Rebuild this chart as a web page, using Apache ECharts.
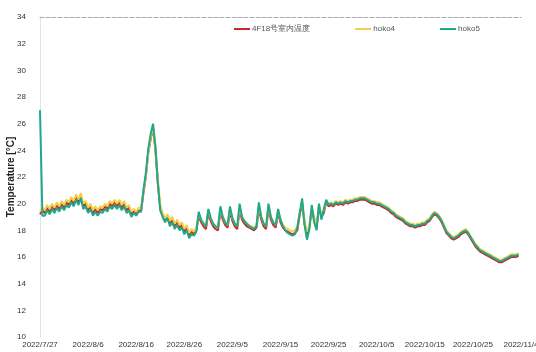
<!DOCTYPE html>
<html>
<head>
<meta charset="utf-8">
<script src="https://cdn.jsdelivr.net/npm/echarts@6/dist/echarts.min.js"></script>
<style>
  html, body { margin: 0; padding: 0; background: #fff; }
  #chart { width: 536px; height: 352px; }
</style>
</head>
<body>
<div id="chart"></div>
<script>
// Logger readings, two samples per day (00:00 and 12:00) starting 2022/7/27.
const startDate = [2022, 6, 27];
const seriesNames = ['4F18号室内温度', 'hoko4', 'hoko5'];
const yTicks = { min: 10, max: 34, step: 2 };
const xTicks = { min: 0, max: 100, step: 10 };

const room18 = [
  19.2,19.5, 19.3,19.7, 19.4,19.8, 19.5,19.9, 19.6,20.0, 19.7,20.1, 19.9,20.3, 20.0,20.5, 20.1,20.6, 19.8,20.0,
  19.5,19.8, 19.3,19.6, 19.3,19.6, 19.5,19.8, 19.6,20.0, 19.8,20.1, 19.8,20.1, 19.7,20.0, 19.5,19.7, 19.2,19.4,
  19.2,19.5, 19.4,20.8, 22.0,23.8, 24.8,25.7, 24.0,21.5, 19.6,19.1, 18.7,19.0, 18.5,18.8, 18.3,18.6, 18.2,18.4,
  17.9,18.2, 17.6,17.9, 17.7,18.0, 19.1,18.6, 18.3,18.1, 19.3,18.7, 18.3,18.1, 18.0,19.4, 18.8,18.4, 18.2,19.4,
  18.7,18.3, 18.1,19.5, 18.8,18.5, 18.3,18.2, 18.1,18.0, 18.2,19.6, 18.8,18.3, 18.1,19.6, 18.8,18.4, 18.2,19.3,
  18.6,18.2, 18.0,17.9, 17.8,17.7, 17.8,18.0, 19.2,20.0, 18.5,17.6, 18.2,19.6, 18.8,18.2, 19.8,19.0, 19.3,20.1,
  19.8,19.9, 19.8,20.0, 19.9,20.0, 19.9,20.1, 20.0,20.1, 20.1,20.2, 20.2,20.3, 20.3,20.3, 20.2,20.1, 20.0,20.0,
  19.9,19.9, 19.8,19.7, 19.6,19.5, 19.3,19.2, 19.0,18.9, 18.8,18.7, 18.5,18.4, 18.3,18.3, 18.2,18.3, 18.3,18.4,
  18.4,18.6, 18.7,19.0, 19.2,19.1, 18.9,18.6, 18.2,17.8, 17.6,17.4, 17.3,17.4, 17.5,17.7, 17.8,17.9, 17.7,17.4,
  17.1,16.8, 16.6,16.4, 16.3,16.2, 16.1,16.0, 15.9,15.8, 15.7,15.6, 15.6,15.7, 15.8,15.9, 16.0,16.0, 16.0,16.1
];

const hoko4 = [
  19.4,19.7, 19.5,19.9, 19.6,20.0, 19.7,20.1, 19.8,20.2, 19.9,20.3, 20.1,20.5, 20.2,20.7, 20.3,20.8, 20.0,20.2,
  19.7,20.0, 19.5,19.8, 19.5,19.8, 19.7,20.0, 19.8,20.2, 20.0,20.3, 20.0,20.3, 19.9,20.2, 19.7,19.9, 19.4,19.6,
  19.4,19.7, 19.6,20.9, 22.0,23.8, 24.9,25.8, 24.2,21.8, 19.9,19.3, 18.9,19.2, 18.7,19.0, 18.5,18.8, 18.4,18.6,
  18.1,18.4, 17.8,18.1, 17.9,18.2, 19.2,18.8, 18.5,18.3, 19.5,18.9, 18.5,18.3, 18.2,19.6, 19.0,18.6, 18.4,19.6,
  18.9,18.5, 18.3,19.7, 19.0,18.7, 18.5,18.4, 18.3,18.2, 18.4,19.8, 19.0,18.5, 18.3,19.8, 19.0,18.6, 18.4,19.5,
  18.8,18.4, 18.2,18.1, 18.0,17.9, 18.0,18.3, 19.4,20.1, 18.7,17.9, 18.4,19.7, 19.0,18.4, 19.9,19.2, 19.5,20.2,
  20.0,20.1, 20.0,20.2, 20.1,20.2, 20.1,20.3, 20.2,20.3, 20.3,20.4, 20.4,20.5, 20.5,20.5, 20.4,20.3, 20.2,20.2,
  20.1,20.1, 20.0,19.9, 19.8,19.7, 19.5,19.4, 19.2,19.1, 19.0,18.9, 18.7,18.6, 18.5,18.5, 18.4,18.5, 18.5,18.6,
  18.6,18.8, 18.9,19.2, 19.4,19.3, 19.1,18.8, 18.4,18.0, 17.8,17.6, 17.5,17.6, 17.7,17.9, 18.0,18.1, 17.9,17.6,
  17.3,17.0, 16.8,16.6, 16.5,16.4, 16.3,16.2, 16.1,16.0, 15.9,15.8, 15.8,15.9, 16.0,16.1, 16.2,16.2, 16.2,16.3
];

const hoko5 = [
  27.0,19.1, 19.1,19.5, 19.2,19.6, 19.3,19.7, 19.4,19.8, 19.5,19.9, 19.7,20.1, 19.8,20.3, 19.9,20.4, 19.6,19.8,
  19.3,19.6, 19.1,19.4, 19.1,19.4, 19.3,19.6, 19.4,19.8, 19.6,19.9, 19.6,19.9, 19.5,19.8, 19.3,19.5, 19.0,19.3,
  19.1,19.4, 19.4,21.0, 22.3,24.1, 25.2,26.0, 24.3,21.6, 19.5,19.0, 18.6,18.9, 18.3,18.6, 18.1,18.4, 18.0,18.2,
  17.7,18.0, 17.4,17.7, 17.6,17.9, 19.4,18.8, 18.5,18.3, 19.6,18.9, 18.5,18.3, 18.2,19.8, 19.0,18.6, 18.4,19.8,
  18.9,18.5, 18.3,20.0, 19.0,18.7, 18.5,18.3, 18.2,18.1, 18.3,20.1, 19.0,18.5, 18.3,20.0, 19.0,18.6, 18.4,19.6,
  18.8,18.3, 18.0,17.8, 17.7,17.6, 17.7,18.2, 19.3,20.4, 18.4,17.3, 18.1,19.9, 18.6,18.0, 20.0,18.8, 19.6,20.3,
  19.9,20.0, 19.9,20.1, 20.0,20.1, 20.0,20.2, 20.1,20.2, 20.2,20.3, 20.3,20.4, 20.4,20.4, 20.3,20.2, 20.1,20.1,
  20.0,20.0, 19.9,19.8, 19.7,19.6, 19.4,19.3, 19.1,19.0, 18.9,18.8, 18.6,18.5, 18.4,18.4, 18.3,18.4, 18.4,18.5,
  18.5,18.7, 18.8,19.1, 19.3,19.2, 19.0,18.7, 18.3,17.9, 17.7,17.5, 17.4,17.5, 17.6,17.8, 17.9,18.0, 17.8,17.5,
  17.2,16.9, 16.7,16.5, 16.4,16.3, 16.2,16.1, 16.0,15.9, 15.8,15.7, 15.7,15.8, 15.9,16.0, 16.1,16.1, 16.1,16.2
];

const seriesColors = ['#c8282d', '#f0d04a', '#1fa98a'];

// Pair each reading with its elapsed day count (half-day steps).
function toPoints(values) {
  return values.map((v, i) => [i * 0.5, v]);
}

function dayLabel(v) {
  const d = new Date(startDate[0], startDate[1], startDate[2] + Math.round(v));
  return d.getFullYear() + '/' + (d.getMonth() + 1) + '/' + d.getDate();
}

const chart = echarts.init(document.getElementById('chart'), null, { renderer: 'canvas' });
const font = 'Liberation Sans, Arial, sans-serif';

chart.setOption({
  animation: false,
  backgroundColor: '#ffffff',
  textStyle: { fontFamily: font },
  legend: {
    left: 229,
    top: 20,
    itemWidth: 16,
    itemHeight: 2,
    itemGap: 45,
    icon: 'rect',
    textStyle: { fontSize: 8, color: '#555', padding: [0, 0, 0, -3] },
    data: seriesNames
  },
  grid: { left: 40, right: 15, top: 17, bottom: 15, containLabel: false, outerBoundsMode: 'none' },
  xAxis: [{
    type: 'value',
    min: xTicks.min,
    max: xTicks.max,
    interval: xTicks.step,
    axisLine: { show: false },
    axisTick: { show: false },
    splitLine: { show: false },
    axisLabel: {
      fontSize: 8,
      color: '#333',
      margin: 4,
      formatter: dayLabel
    }
  }, {
    type: 'value',
    position: 'top',
    min: xTicks.min,
    max: xTicks.max,
    axisLine: { show: true, lineStyle: { color: '#aaa', type: 'dashed', width: 1 } },
    axisTick: { show: false },
    axisLabel: { show: false },
    splitLine: { show: false }
  }],
  yAxis: [{
    type: 'value',
    min: yTicks.min,
    max: yTicks.max,
    interval: yTicks.step,
    name: 'Temperature [°C]',
    nameLocation: 'middle',
    nameGap: 24,
    nameMoveOverlap: false,
    nameTextStyle: { fontSize: 10, fontWeight: 'bold', color: '#222' },
    axisLine: { show: true, lineStyle: { color: '#ddd' } },
    axisTick: { show: false },
    splitLine: { show: false },
    axisLabel: { fontSize: 8, color: '#333', align: 'left', margin: 23 }
  }, {
    type: 'value',
    position: 'right',
    min: yTicks.min,
    max: yTicks.max,
    axisLine: { show: true, lineStyle: { color: '#e4e4e4' } },
    axisTick: { show: false },
    axisLabel: { show: false },
    splitLine: { show: false }
  }],
  series: [room18, hoko4, hoko5].map((vals, k) => ({
    name: seriesNames[k],
    type: 'line',
    data: toPoints(vals),
    showSymbol: false,
    color: seriesColors[k],
    lineStyle: { width: 2, color: seriesColors[k] },
    z: 2 + k
  }))
});
</script>
</body>
</html>
